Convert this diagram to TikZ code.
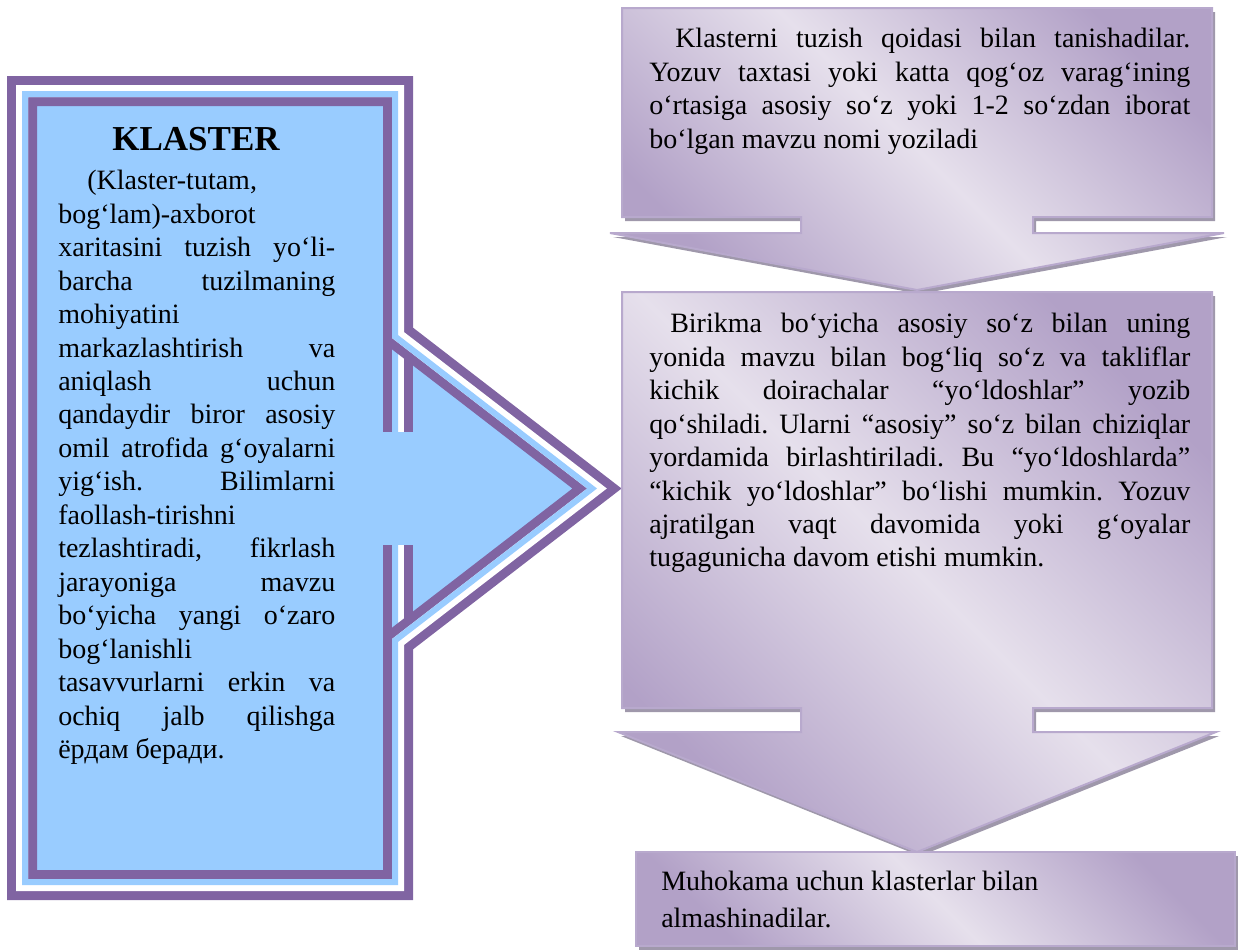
\documentclass[tikz,border=0pt]{standalone}
\usepackage{fontspec}
\setmainfont{Liberation Serif}
\usetikzlibrary{shadows}
\definecolor{klpurple}{HTML}{8064A2}
\definecolor{klblue}{HTML}{99CCFF}
\definecolor{lavdark}{HTML}{B2A1C7}
\definecolor{lavlight}{HTML}{E6E0EC}
\definecolor{lavedge}{HTML}{B8A9CD}
\definecolor{lavshadow}{HTML}{9F98AB}
\newlength{\klw}\setlength{\klw}{207.75pt}
\newlength{\stw}\setlength{\stw}{405.75pt}
\newcommand{\kjust}[1]{\makebox[\klw][s]{#1}}
\newcommand{\sjust}[1]{\makebox[\stw][s]{#1}}
\newcommand{\sjustin}[2]{\hspace*{#1}\makebox[\dimexpr\stw-#1\relax][s]{#2}}
\frenchspacing

\begin{document}
\begin{tikzpicture}[x=0.75pt, y=-0.75pt,
        txt/.style={inner sep=0pt, align=left, font=\fontsize{21}{25.1}\selectfont},
        stepbox/.style={top color=lavdark, bottom color=lavdark, middle color=lavlight, shading angle=-45, draw=lavedge, line width=1.5pt, line join=miter, drop shadow={shadow xshift=2.25pt, shadow yshift=-3pt, fill=lavshadow, opacity=1}},
        klouter/.style={klpurple, line width=22.5pt, line join=miter},
        klinner/.style={white, line width=9pt, line join=miter},
        klstripe/.style={klblue, line width=9pt, line join=miter}]
        \useasboundingbox (0, 0) rectangle (1240, 951);
        \coordinate (kA) at (22, 91);
        \coordinate (kB) at (398, 91);
        \coordinate (kC) at (398, 335);
        \coordinate (kT) at (597, 488.5);
        \coordinate (kD) at (398, 642);
        \coordinate (kE) at (398, 885);
        \coordinate (kF) at (22, 885);
        \coordinate (kS) at (398, 432);
        \coordinate (kR) at (398, 545);
        \fill[klblue] (kA) -- (kB) -- (kC) -- (kT) -- (kD) -- (kE) -- (kF) -- cycle;
        \draw[klouter] (kC) -- (kS) (kR) -- (kD);
        \draw[klinner] (kC) -- (kS) (kR) -- (kD);
        \begin{scope}
            \clip (kA) rectangle (kE);
            \draw[klstripe] (kC) -- (kS) (kR) -- (kD);
        \end{scope}
        \draw[klouter] (kA) -- (kB) -- (kC) -- (kT) -- (kD) -- (kE) -- (kF) -- cycle;
        \draw[klinner] (kA) -- (kB) -- (kC) -- (kT) -- (kD) -- (kE) -- (kF) -- cycle;
        \begin{scope}
            \clip (kA) -- (kB) -- (kC) -- (kT) -- (kD) -- (kE) -- (kF) -- cycle;
            \draw[klstripe] (kA) -- (kB) -- (kC) -- (kT) -- (kD) -- (kE) -- (kF) -- cycle;
        \end{scope}
        \shade[stepbox] (622, 8) -- (1212, 8) -- (1212, 217) -- (1033, 217) -- (1033, 233) -- (1224, 233) -- (917, 290) -- (610, 233) -- (801, 233) -- (801, 217) -- (622, 217) -- cycle;
        \shade[stepbox] (622, 292) -- (1212, 292) -- (1212, 708) -- (1033, 708) -- (1033, 732) -- (1216, 732) -- (917, 852) -- (618, 732) -- (801, 732) -- (801, 708) -- (622, 708) -- cycle;
        \shade[stepbox] (636, 852) rectangle (1235, 946);
        \node[txt, font=\bfseries\fontsize{26.25}{30}\selectfont, anchor=base] (kltitle) at (196, 150) {KLASTER};
        \node[txt, anchor=north west] (klbody) at (58, 170) {\hspace*{21.75pt}(Klaster-tutam,\\
            bog‘lam)-axborot\\
            \kjust{xaritasini tuzish yo‘li-}\\
            \kjust{barcha tuzilmaning}\\
            mohiyatini\\
            \kjust{markazlashtirish va}\\
            \kjust{aniqlash uchun}\\
            \kjust{qandaydir biror asosiy}\\
            \kjust{omil atrofida g‘oyalarni}\\
            \kjust{yig‘ish. Bilimlarni}\\
            faollash-tirishni\\
            \kjust{tezlashtiradi, fikrlash}\\
            \kjust{jarayoniga mavzu}\\
            \kjust{bo‘yicha yangi o‘zaro}\\
            bog‘lanishli\\
            \kjust{tasavvurlarni erkin va}\\
            \kjust{ochiq jalb qilishga}\\
            ёрдам беради.};
        \node[txt, anchor=north west] (rulebody) at (649, 28) {\sjustin{19.5pt}{Klasterni tuzish qoidasi bilan tanishadilar.}\\
            \sjust{Yozuv taxtasi yoki katta qog‘oz varag‘ining}\\
            \sjust{o‘rtasiga asosiy so‘z yoki 1-2 so‘zdan iborat}\\
            bo‘lgan mavzu nomi yoziladi};
        \node[txt, anchor=north west] (satbody) at (649, 313) {\sjustin{15.75pt}{Birikma bo‘yicha asosiy so‘z bilan uning}\\
            \sjust{yonida mavzu bilan bog‘liq so‘z va takliflar}\\
            \sjust{kichik doirachalar “yo‘ldoshlar” yozib}\\
            \sjust{qo‘shiladi. Ularni “asosiy” so‘z bilan chiziqlar}\\
            \sjust{yordamida birlashtiriladi. Bu “yo‘ldoshlarda”}\\
            \sjust{“kichik yo‘ldoshlar” bo‘lishi mumkin. Yozuv}\\
            \sjust{ajratilgan vaqt davomida yoki g‘oyalar}\\
            tugagunicha davom etishi mumkin.};
        \node[txt, font=\fontsize{21}{27.75}\selectfont, anchor=north west] (talkbody) at (661, 871) {Muhokama uchun klasterlar bilan\\
            almashinadilar.};
    \end{tikzpicture}
\end{document}
